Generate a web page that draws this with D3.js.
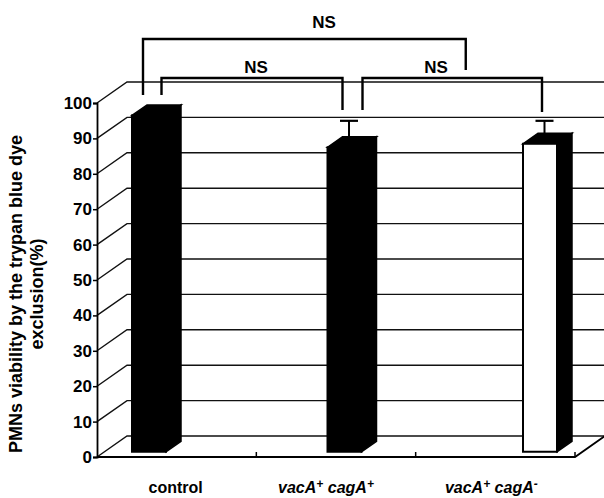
<!DOCTYPE html>
<html>
<head>
<meta charset="utf-8">
<script src="https://cdn.jsdelivr.net/npm/d3@7"></script>
<style>
  html, body { margin: 0; padding: 0; background: #fff; }
  svg { display: block; }
  text { font-family: "Liberation Sans", Arial, Helvetica, sans-serif; fill: #000; }
</style>
</head>
<body>
<svg id="chart" width="604" height="498"></svg>
<script>
// ---- data ----
const categories = ["control", "vacA+ cagA+", "vacA+ cagA-"];
const labelParts = [
  [["control", false, false]],
  [["vacA", true, false], ["+", true, true], [" cagA", true, false], ["+", true, true]],
  [["vacA", true, false], ["+", true, true], [" cagA", true, false], ["-", true, true]]
];
const values = [95, 86, 87];
const errors = [0, 6, 5];
const barFills = ["#000", "#000", "#fff"];
const yTicks = [0, 10, 20, 30, 40, 50, 60, 70, 80, 90, 100];
const brackets = [
  { from: 0, to: 1, label: "NS", level: 1 },
  { from: 1, to: 2, label: "NS", level: 1 },
  { from: 0, to: 2, label: "NS", level: 2 }
];

// ---- layout ----
const svg = d3.select("#chart");
const W = 604, H = 498;
const x0 = 97, x1 = 575;           // front floor extent
const depthX = 30, depthY = -21;   // back wall offset
const y = d3.scaleLinear().domain([0, 100]).range([457, 103]);
const xBand = d3.scaleBand().domain(categories).range([x0, x1]);
const xBar = d3.scalePoint().domain(categories).range([141.5, 532.5]);
const barW = 34, bd0 = 0.25, bd1 = 0.75;

const P = (x, v, d) => [x + depthX * d, y(v) + depthY * d];
const line = d3.line();

const g = svg.append("g");

// back wall gridlines
g.append("g").selectAll("path").data(yTicks).join("path")
  .attr("d", t => line([P(x0, t, 0), P(x0, t, 1), [W + 10, y(t) + depthY]]))
  .attr("fill", "none").attr("stroke", "#111").attr("stroke-width", 1.4);

// floor front edge + right edge
g.append("path")
  .attr("d", line([P(x0, 0, 0), P(x1, 0, 0), P(x1, 0, 1)]))
  .attr("fill", "none").attr("stroke", "#000").attr("stroke-width", 1.8);

// x ticks (boundaries)
const bounds = categories.map(c => xBand(c) + xBand.bandwidth());
g.append("g").selectAll("line").data(bounds).join("line")
  .attr("x1", d => d).attr("x2", d => d)
  .attr("y1", y(0)).attr("y2", y(0) - 5)
  .attr("stroke", "#000").attr("stroke-width", 1.5);

// y axis
const yAxis = d3.axisLeft(y).tickValues(yTicks).tickSize(4).tickPadding(1);
const ya = g.append("g").attr("transform", `translate(${x0},0)`).call(yAxis);
ya.select(".domain").attr("stroke", "#000").attr("stroke-width", 1.8);
ya.selectAll(".tick line").attr("stroke", "#000").attr("stroke-width", 1.5);
ya.selectAll(".tick text")
  .style("font-family", '"Liberation Sans", Arial, sans-serif')
  .style("font-size", "17px").style("font-weight", "bold").attr("fill", "#000");

// bars
const bars = g.append("g").selectAll("g").data(categories).join("g");
bars.each(function (c, i) {
  const sel = d3.select(this);
  const xc = xBar(c);
  const xl = xc - barW / 2, xr = xc + barW / 2;
  const v = values[i];
  const fl = P(xl, v, bd0), fr = P(xr, v, bd0);
  const bl = P(xl, 0, bd0), br = P(xr, 0, bd0);
  const dd = bd1 - bd0;
  const ox = depthX * dd, oy = depthY * dd;
  sel.append("path")
    .attr("d", line([fr, [fr[0] + ox, fr[1] + oy], [br[0] + ox, br[1] + oy], br]) + "Z")
    .attr("fill", "#000").attr("stroke", "#000").attr("stroke-width", 1.5);
  sel.append("path")
    .attr("d", line([fl, [fl[0] + ox, fl[1] + oy], [fr[0] + ox, fr[1] + oy], fr]) + "Z")
    .attr("fill", "#000").attr("stroke", "#000").attr("stroke-width", 1.5);
  sel.append("rect")
    .attr("x", fl[0]).attr("y", fl[1])
    .attr("width", fr[0] - fl[0]).attr("height", bl[1] - fl[1])
    .attr("fill", barFills[i]).attr("stroke", "#000").attr("stroke-width", 2);
  if (errors[i] > 0) {
    const ex = xc + 12;
    const yTop = y(v + errors[i]) + depthY * 0.5;
    const yBase = y(v) + depthY * 0.5;
    sel.append("line").attr("x1", ex).attr("x2", ex).attr("y1", yBase).attr("y2", yTop)
      .attr("stroke", "#000").attr("stroke-width", 2);
    sel.append("line").attr("x1", ex - 9).attr("x2", ex + 9).attr("y1", yTop).attr("y2", yTop)
      .attr("stroke", "#000").attr("stroke-width", 2.2);
  }
});

// x labels
const xl = g.append("g").selectAll("text").data(categories).join("text")
  .attr("x", (c, i) => xBand(c) + xBand.bandwidth() / 2 + [-1, -10, -4][i])
  .attr("y", 493)
  .attr("text-anchor", "middle")
  .style("font-size", "16px").style("font-weight", "bold");
xl.each(function (c, i) {
  const t = d3.select(this);
  labelParts[i].forEach(([s, it, sup]) => {
    t.append("tspan").text(s)
      .style("font-style", it ? "italic" : "normal")
      .style("font-size", sup ? "12px" : "16px")
      .attr("baseline-shift", sup ? "40%" : null);
  });
});

// y label
const yl = g.append("text")
  .attr("transform", "translate(22,294) rotate(-90)")
  .attr("text-anchor", "middle")
  .style("font-size", "18px").style("font-weight", "bold");
yl.append("tspan").attr("x", 0).attr("dy", 0).text("PMNs viability by the trypan blue dye");
yl.append("tspan").attr("x", 0).attr("dy", 21).text("exclusion(%)");

// significance brackets (annotation positions relative to bars)
const bk = [
  { l: xBar(categories[0]) + 20, r: xBar(categories[1]) + 5.5, yh: 78, yl: 95, yr: 110, tx: 256, ty: 73 },
  { l: xBar(categories[1]) + 25.5, r: xBar(categories[2]) + 9.5, yh: 78, yl: 110, yr: 112, tx: 436, ty: 73 },
  { l: xBar(categories[0]) + 1.5, r: (xBar(categories[1]) + xBar(categories[2])) / 2 + 31, yh: 39, yl: 95, yr: 70, tx: 324, ty: 28 }
];
brackets.forEach((b, i) => {
  const k = bk[i];
  g.append("path")
    .attr("d", line([[k.l, k.yl], [k.l, k.yh], [k.r, k.yh], [k.r, k.yr]]))
    .attr("fill", "none").attr("stroke", "#000").attr("stroke-width", 2.4);
  g.append("text").attr("x", k.tx).attr("y", k.ty).attr("text-anchor", "middle")
    .style("font-size", "17px").style("font-weight", "bold").text(b.label);
});
</script>
</body>
</html>
